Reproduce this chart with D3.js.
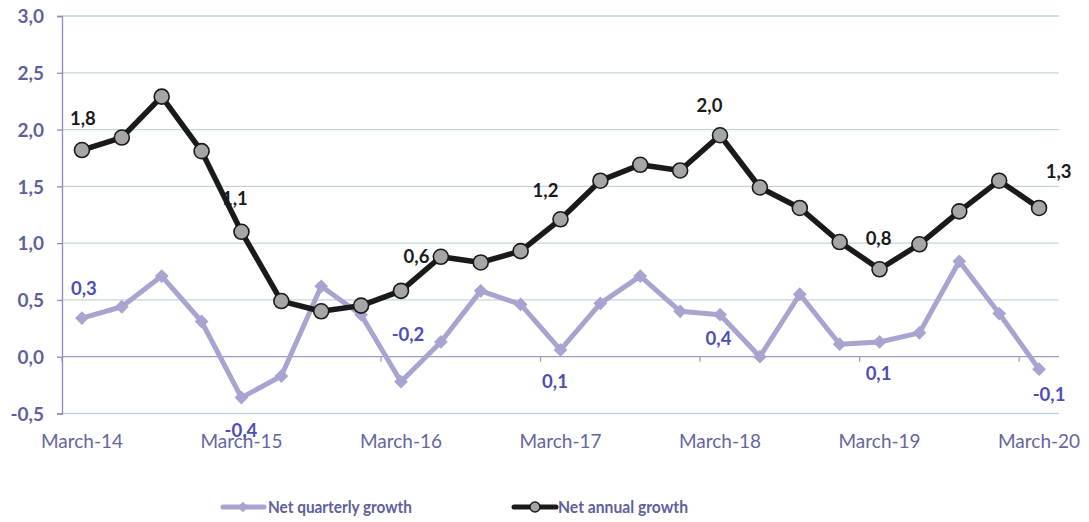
<!DOCTYPE html>
<html><head><meta charset="utf-8">
<script src="https://cdn.jsdelivr.net/npm/d3@7"></script>
<style>body{margin:0;background:#fff}svg{display:block;font-family:Lato,"Open Sans",sans-serif}</style>
</head><body><svg id="c" width="1089" height="522"></svg>
<script>
const categories = ["Mar-14","Jun-14","Sep-14","Dec-14","Mar-15","Jun-15","Sep-15","Dec-15","Mar-16","Jun-16","Sep-16","Dec-16","Mar-17","Jun-17","Sep-17","Dec-17","Mar-18","Jun-18","Sep-18","Dec-18","Mar-19","Jun-19","Sep-19","Dec-19","Mar-20"];
const xLabels = ["March-14","March-15","March-16","March-17","March-18","March-19","March-20"];
const quarterly = [0.34,0.44,0.71,0.31,-0.36,-0.17,0.62,0.37,-0.22,0.13,0.58,0.46,0.06,0.47,0.71,0.40,0.37,0.00,0.55,0.11,0.13,0.21,0.84,0.38,-0.11];
const annual = [1.82,1.93,2.29,1.81,1.10,0.49,0.40,0.45,0.58,0.88,0.83,0.93,1.21,1.55,1.69,1.64,1.95,1.49,1.31,1.01,0.77,0.99,1.28,1.55,1.31];
const yTicks = [-0.5,0,0.5,1.0,1.5,2.0,2.5,3.0];
const labelIdx = [0,4,8,12,16,20,24];
const seriesNames = ["Net quarterly growth","Net annual growth"];
// label offsets (layout, px from point to label centre)
const annualLabelOff = [[1,-31.5],[-6.5,-33],[15.5,-34.5],[-15,-29],[-10.5,-30],[-1,-31],[19.5,-36]];
const quarterlyLabelOff = [[2,-29.5],[-0.5,33],[7,-47],[-5.5,31.5],[-1.5,23.5],[-1,32],[10,25.5]];

const svg = d3.select("#c");
const L=62, R=1059, T=16, B=413.5;
const x = d3.scaleBand().domain(categories).range([L,R]);
const xc = d => x(d)+x.bandwidth()/2;
const y = d3.scaleLinear().domain([-0.5,3.0]).range([B,T]);
const fmt = v => d3.format(".1f")(v).replace(".",",").replace("−","-");

// gridlines
svg.append("g").selectAll("line").data(yTicks.filter(t=>t!==0)).join("line")
  .attr("x1",L).attr("x2",R).attr("y1",d=>y(d)).attr("y2",d=>y(d))
  .attr("stroke","#c3d5da").attr("stroke-width",1.3);
// zero axis
svg.append("line").attr("x1",L).attr("x2",R).attr("y1",y(0)).attr("y2",y(0)).attr("stroke","#9a9ac4").attr("stroke-width",1.3);
// x ticks every 4 categories
svg.append("g").selectAll("line").data(d3.range(0,25,4)).join("line")
  .attr("x1",i=>L+i*x.step()).attr("x2",i=>L+i*x.step()).attr("y1",y(0)).attr("y2",y(0)+5)
  .attr("stroke","#9a9ac4").attr("stroke-width",1.2);
// y axis
const yAxis = d3.axisLeft(y).tickValues(yTicks).tickSize(5).tickFormat(fmt);
const ya = svg.append("g").attr("transform",`translate(${L},0)`).call(yAxis);
ya.select(".domain").attr("stroke","#8c8cbc").attr("stroke-width",1.3);
ya.selectAll(".tick line").attr("stroke","#8c8cbc").attr("stroke-width",1.3);
ya.selectAll(".tick text").attr("x",-18).attr("dy","0.36em").attr("fill","#5f5f9c").attr("font-size",19).attr("font-weight","bold").attr("font-family","Lato");

// x labels
svg.append("g").selectAll("text").data(labelIdx).join("text")
  .attr("x",(i)=>xc(categories[i])).attr("y",448).attr("text-anchor","middle")
  .attr("fill","#6565a0").attr("font-size",19).text((i,k)=>xLabels[k]);

const line = d3.line().x((d,i)=>xc(categories[i])).y(d=>y(d));
// quarterly
svg.append("path").datum(quarterly).attr("d",line).attr("fill","none").attr("stroke","#a7a5d0").attr("stroke-width",5).attr("stroke-linejoin","round");
svg.append("g").selectAll("path").data(quarterly).join("path")
  .attr("d",d3.symbol().type(d3.symbolSquare).size(95))
  .attr("transform",(d,i)=>`translate(${xc(categories[i])},${y(d)}) rotate(45)`)
  .attr("fill","#a7a5d0");
// annual
svg.append("path").datum(annual).attr("d",line).attr("fill","none").attr("stroke","#1a1a1a").attr("stroke-width",5.5).attr("stroke-linejoin","round");
svg.append("g").selectAll("circle").data(annual).join("circle")
  .attr("cx",(d,i)=>xc(categories[i])).attr("cy",d=>y(d)).attr("r",7.5)
  .attr("fill","#a6a6a6").attr("stroke","#1a1a1a").attr("stroke-width",1.6);

// data labels
svg.append("g").selectAll("text").data(labelIdx).join("text")
  .attr("x",(i,k)=>xc(categories[i])+annualLabelOff[k][0]).attr("y",(i,k)=>y(annual[i])+annualLabelOff[k][1]+6.5)
  .attr("text-anchor","middle").attr("font-size",18.5).attr("font-weight","bold").attr("fill","#1a1a1a")
  .text(i=>fmt(Math.round(annual[i]*10)/10));
svg.append("g").selectAll("text").data(labelIdx).join("text")
  .attr("x",(i,k)=>xc(categories[i])+quarterlyLabelOff[k][0]).attr("y",(i,k)=>y(quarterly[i])+quarterlyLabelOff[k][1]+6.5)
  .attr("text-anchor","middle").attr("font-size",18.5).attr("font-weight","bold").attr("fill","#4d4db5")
  .text(i=>fmt(Math.round(quarterly[i]*10)/10));

// legend
const lg = svg.append("g");
lg.append("line").attr("x1",223).attr("x2",264).attr("y1",507).attr("y2",507).attr("stroke","#a7a5d0").attr("stroke-width",5).attr("stroke-linecap","round");
lg.append("path").attr("d",d3.symbol().type(d3.symbolSquare).size(55)).attr("transform","translate(243,507) rotate(45)").attr("fill","#a7a5d0");
lg.append("text").attr("x",268).attr("y",513).attr("font-size",17.5).attr("font-weight","bold").attr("fill","#60609a")
  .attr("textLength",144).attr("lengthAdjust","spacingAndGlyphs").text(seriesNames[0]);
lg.append("line").attr("x1",514).attr("x2",556).attr("y1",507).attr("y2",507).attr("stroke","#1a1a1a").attr("stroke-width",5).attr("stroke-linecap","round");
lg.append("circle").attr("cx",535).attr("cy",507).attr("r",5).attr("fill","#a6a6a6").attr("stroke","#1a1a1a").attr("stroke-width",1.4);
lg.append("text").attr("x",558).attr("y",513).attr("font-size",17.5).attr("font-weight","bold").attr("fill","#60609a")
  .attr("textLength",130).attr("lengthAdjust","spacingAndGlyphs").text(seriesNames[1]);
</script></body></html>
